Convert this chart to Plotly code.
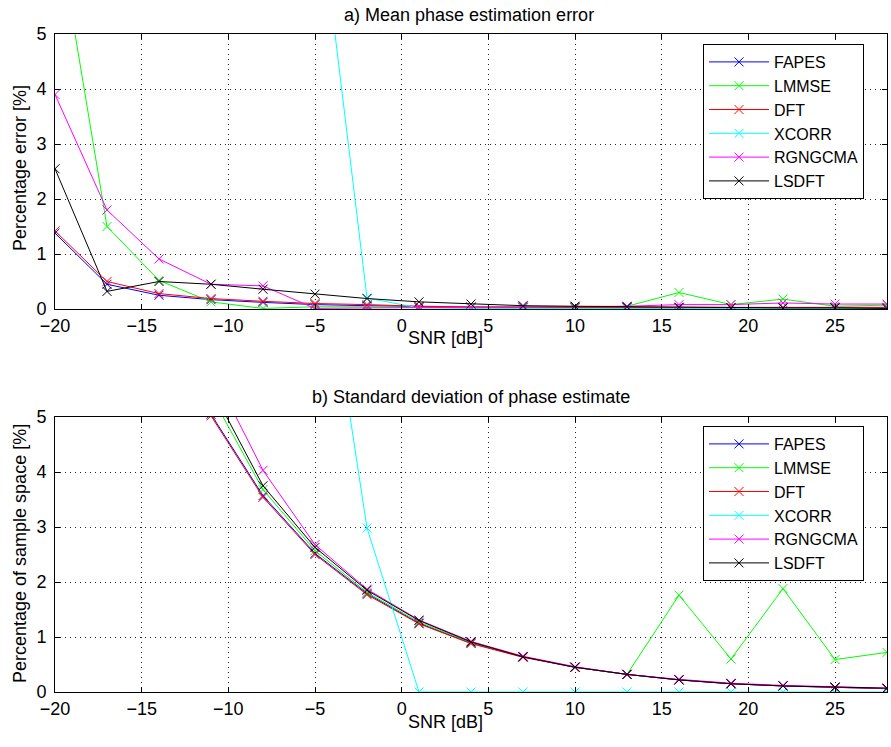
import plotly.graph_objects as go

snr = [-20, -17, -14, -11, -8, -5, -2, 1, 4, 7, 10, 13, 16, 19, 22, 25, 28]
names = ["FAPES", "LMMSE", "DFT", "XCORR", "RGNGCMA", "LSDFT"]
colors = ["#0000ff", "#00ff00", "#ff0000", "#00ffff", "#ff00ff", "#000000"]

# a) Mean phase estimation error [%]
fapes_mean = [1.38, 0.45, 0.25, 0.17, 0.12, 0.08, 0.06, 0.04, 0.03, 0.03, 0.02, 0.02, 0.02, 0.02, 0.02, 0.02, 0.02]
lmmse_mean = [7.2, 1.5, 0.52, 0.13, 0.01, 0.04, 0.04, 0.03, 0.03, 0.03, 0.03, 0.05, 0.30, 0.08, 0.18, 0.05, 0.07]
dft_mean = [1.42, 0.50, 0.28, 0.19, 0.14, 0.10, 0.08, 0.05, 0.04, 0.03, 0.03, 0.03, 0.03, 0.03, 0.03, 0.03, 0.03]
xcorr_mean = [40, 35, 30, 22, 15, 8.0, 0.20, 0.02, 0.01, 0.01, 0.01, 0.01, 0.01, 0.01, 0.01, 0.01, 0.01]
rgng_mean = [3.9, 1.8, 0.91, 0.45, 0.42, 0.01, 0.02, 0.02, 0.03, 0.04, 0.05, 0.05, 0.08, 0.08, 0.11, 0.09, 0.09]
lsdft_mean = [2.55, 0.32, 0.50, 0.45, 0.36, 0.27, 0.19, 0.13, 0.09, 0.06, 0.05, 0.04, 0.03, 0.02, 0.02, 0.02, 0.01]

# b) Standard deviation of phase estimate [% of sample space]
fapes_std = [14.0, 10.0, 7.1, 5.05, 3.57, 2.52, 1.79, 1.25, 0.89, 0.64, 0.45, 0.32, 0.22, 0.15, 0.11, 0.08, 0.06]
lmmse_std = [15.0, 10.8, 7.6, 5.4, 3.68, 2.57, 1.81, 1.27, 0.90, 0.64, 0.45, 0.32, 1.76, 0.60, 1.88, 0.59, 0.72]
dft_std = [14.0, 10.0, 7.1, 5.02, 3.54, 2.50, 1.77, 1.24, 0.88, 0.63, 0.45, 0.32, 0.22, 0.15, 0.11, 0.08, 0.06]
xcorr_std = [40, 35, 30, 22, 16, 9.2, 2.98, 0, 0, 0, 0, 0, 0, 0, 0, 0, 0]
rgng_std = [17.0, 12.2, 8.4, 5.9, 4.03, 2.68, 1.87, 1.31, 0.92, 0.65, 0.46, 0.32, 0.23, 0.16, 0.12, 0.09, 0.07]
lsdft_std = [16.0, 11.3, 7.9, 5.54, 3.75, 2.63, 1.85, 1.30, 0.91, 0.64, 0.45, 0.32, 0.22, 0.15, 0.11, 0.09, 0.07]

mean_series = [fapes_mean, lmmse_mean, dft_mean, xcorr_mean, rgng_mean, lsdft_mean]
std_series = [fapes_std, lmmse_std, dft_std, xcorr_std, rgng_std, lsdft_std]

x_ticks = [-20, -15, -10, -5, 0, 5, 10, 15, 20, 25]
y_ticks = [0, 1, 2, 3, 4, 5]

W, H = 891, 747
FONT = "Liberation Sans, Arial, Helvetica, sans-serif"
FS = 18
LFS = 16

fig = go.Figure()

for i, (nm, col) in enumerate(zip(names, colors)):
    fig.add_trace(go.Scatter(
        x=snr, y=mean_series[i], name=nm, mode="lines+markers",
        line=dict(color=col, width=1),
        marker=dict(symbol="x-thin", size=9, line=dict(color=col, width=1)),
        xaxis="x", yaxis="y", legend="legend"))
for i, (nm, col) in enumerate(zip(names, colors)):
    fig.add_trace(go.Scatter(
        x=snr, y=std_series[i], name=nm, mode="lines+markers",
        line=dict(color=col, width=1),
        marker=dict(symbol="x-thin", size=9, line=dict(color=col, width=1)),
        xaxis="x2", yaxis="y2", legend="legend2"))

def px_x(p):
    return p / W

def px_y(p):
    return 1 - p / H

axis_common = dict(
    showline=True, linecolor="black", linewidth=1, mirror="allticks",
    ticks="inside", ticklen=5, tickcolor="black", tickwidth=1,
    showgrid=True, gridcolor="#222222", gridwidth=1, griddash="1px,4px",
    zeroline=False, automargin=False,
    tickfont=dict(family=FONT, size=FS, color="black"),
)

xdom = [px_x(55), px_x(887)]
xtext = [str(v).replace("-", "\u2212") for v in x_ticks]
fig.update_layout(
    width=W, height=H,
    margin=dict(l=0, r=0, t=0, b=0, autoexpand=False),
    paper_bgcolor="white", plot_bgcolor="white",
    font=dict(family=FONT, size=FS, color="black"),
    xaxis=dict(domain=xdom, range=[-20, 28], tickvals=x_ticks, ticktext=xtext,
               anchor="y", **axis_common),
    yaxis=dict(domain=[px_y(309), px_y(34)], range=[0, 5], tickvals=y_ticks,
               anchor="x", ticklabelstandoff=4, **axis_common),
    xaxis2=dict(domain=xdom, range=[-20, 28], tickvals=x_ticks, ticktext=xtext,
                anchor="y2", **axis_common),
    yaxis2=dict(domain=[px_y(692), px_y(417)], range=[0, 5], tickvals=y_ticks,
                anchor="x2", ticklabelstandoff=4, **axis_common),
    legend=dict(x=px_x(703), y=px_y(44), xanchor="left", yanchor="top",
                bgcolor="white", bordercolor="black", borderwidth=1,
                font=dict(family=FONT, size=LFS, color="black"),
                itemwidth=60, tracegroupgap=0),
    legend2=dict(x=px_x(703), y=px_y(426), xanchor="left", yanchor="top",
                 bgcolor="white", bordercolor="black", borderwidth=1,
                 font=dict(family=FONT, size=LFS, color="black"),
                 itemwidth=60, tracegroupgap=0),
    showlegend=True,
)

ann = [
    dict(text="a) Mean phase estimation error", x=px_x(469), y=px_y(15)),
    dict(text="b) Standard deviation of phase estimate", x=px_x(471), y=px_y(397)),
    dict(text="SNR [dB]", x=px_x(445), y=px_y(338)),
    dict(text="SNR [dB]", x=px_x(445), y=px_y(722)),
    dict(text="Percentage error [%]", x=px_x(20), y=px_y(168), textangle=-90),
    dict(text="Percentage of sample space [%]", x=px_x(20), y=px_y(554), textangle=-90),
]
for a in ann:
    fig.add_annotation(xref="paper", yref="paper", showarrow=False,
                       xanchor="center", yanchor="middle",
                       font=dict(family=FONT, size=FS, color="black"), **a)

fig.write_html("out.html")
